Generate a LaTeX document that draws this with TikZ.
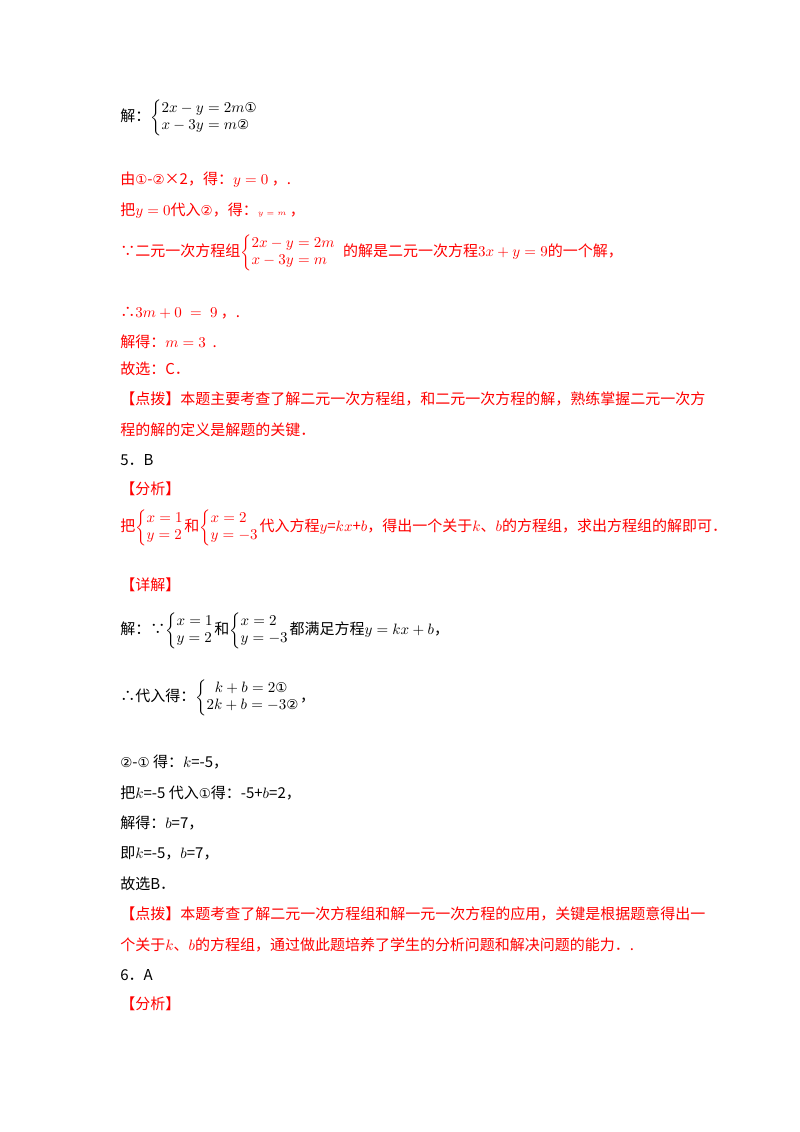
\documentclass[tikz,border=0pt]{standalone}
\usepackage{amsmath}
\usepackage{fontspec}
\setmainfont{Noto Sans CJK SC}
\newfontfamily\sym{DejaVu Sans}
\newcommand{\sys}[1]{\left\{\renewcommand{\arraystretch}{0.95}\begin{array}{@{}l@{}}#1\end{array}\right.}
\begin{document}
\begin{tikzpicture}[x=0.6667pt,y=-0.6667pt,
  t/.style={anchor=west,inner sep=0pt,font=\fontsize{10}{12}\selectfont},
  r/.style={t,text=red}]
\useasboundingbox[fill=white] (0,0) rectangle (800,1132);
\newcommand{\ca}[1]{{\sym\small #1}}
\node[t] (l1) at (120,118) {解：$\sys{2x-y=2m\text{\ca{①}}\\ x-3y=m\text{\ca{②}}}$};
\node[r] (l2) at (120,180) {由\ca{①}-\ca{②}×2，得：$y=0$ ，.};
\node[r] (l3) at (120,211) {把$y=0$代入\ca{②}，得：{\tiny $y=m$} ，};
\node[r] (l4) at (120,253) {∵二元一次方程组$\sys{2x-y=2m\\ x-3y=m}$ \ 的解是二元一次方程$3x+y=9$的一个解，};
\node[r] (l5) at (120,313) {∴$3m+0\;=\;9$ ，.};
\node[r] (l6) at (120,342) {解得：$m=3$ \ .};
\node[r] (l7) at (120,369) {故选：C．};
\node[r] (l8) at (120,399) {【点拨】本题主要考查了解二元一次方程组，和二元一次方程的解，熟练掌握二元一次方};
\node[r] (l9) at (120,430) {程的解的定义是解题的关键．};
\node[t] (l10) at (120,460) {5．B};
\node[r] (l11) at (120,489) {【分析】};
\node[r] (l12) at (120,528) {把$\sys{x=1\\ y=2}$和$\sys{x=2\\ y=-3}$代入方程$y$=$kx$+$b$，得出一个关于$k$、$b$的方程组，求出方程组的解即可．};
\node[r] (l13) at (120,585) {【详解】};
\node[t] (l14) at (120,631) {解：∵$\sys{x=1\\ y=2}$和$\sys{x=2\\ y=-3}$都满足方程$y=kx+b$，};
\node[t] (l15) at (120,698) {∴代入得：$\sys{\;\;k+b=2\text{\ca{①}}\\ 2k+b=-3\text{\ca{②}}}$，};
\node[t] (l16) at (120,762) {\ca{②}-\ca{①} 得：$k$=-5，};
\node[t] (l17) at (120,793) {把$k$=-5 代入\ca{①}得：-5+$b$=2，};
\node[t] (l18) at (120,823) {解得：$b$=7，};
\node[t] (l19) at (120,853) {即$k$=-5，$b$=7，};
\node[t] (l20) at (120,884) {故选B．};
\node[r] (l21) at (120,914) {【点拨】本题考查了解二元一次方程组和解一元一次方程的应用，关键是根据题意得出一};
\node[r] (l22) at (120,945) {个关于$k$、$b$的方程组，通过做此题培养了学生的分析问题和解决问题的能力．.};
\node[t] (l23) at (120,975) {6．A};
\node[r] (l24) at (120,1004) {【分析】};
\end{tikzpicture}
\end{document}
